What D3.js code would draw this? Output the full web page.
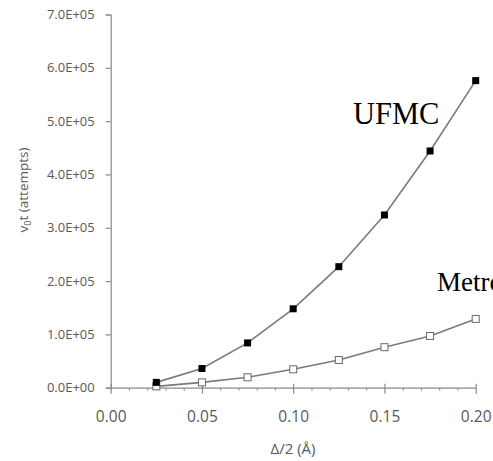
<!DOCTYPE html>
<html>
<head>
<meta charset="utf-8">
<script src="https://cdn.jsdelivr.net/npm/d3@7"></script>
<style>
  html, body { margin: 0; padding: 0; background: #fff; }
  svg { display: block; }
</style>
</head>
<body>
<svg id="chart" width="493" height="461"></svg>
<script>
// Half-width of the displacement window, Å
const halfDelta = [0.025, 0.05, 0.075, 0.1, 0.125, 0.15, 0.175, 0.2];
// Attempts needed, UFMC
const ufmcAttempts = [1.0e4, 3.6e4, 8.4e4, 1.48e5, 2.27e5, 3.24e5, 4.44e5, 5.76e5];
// Attempts needed, Metropolis
const metroAttempts = [2.5e3, 1.0e4, 1.95e4, 3.45e4, 5.2e4, 7.6e4, 9.7e4, 1.29e5];

const xTickValues = [0, 0.05, 0.1, 0.15, 0.2];
const xTickLabels = ["0.00", "0.05", "0.10", "0.15", "0.20"];
const xMinorValues = d3.range(0, 21).map(i => i / 100).filter(v => Math.round(v * 100) % 5 !== 0);
const yTickValues = [0, 1e5, 2e5, 3e5, 4e5, 5e5, 6e5, 7e5];
const yTickLabels = ["0.0E+00", "1.0E+05", "2.0E+05", "3.0E+05", "4.0E+05", "5.0E+05", "6.0E+05", "7.0E+05"];

const svg = d3.select("#chart");
const x = d3.scaleLinear().domain([0, 0.2]).range([110.7, 475.7]);
const y = d3.scaleLinear().domain([0, 7e5]).range([387.7, 14.5]);

const axisColor = "#8a8a8a";
const textColor = "#595959";
const font = "'Open Sans', sans-serif";

// Y axis
const yAxis = svg.append("g")
  .attr("transform", `translate(${x(0)},0)`)
  .call(d3.axisLeft(y).tickValues(yTickValues)
    .tickFormat((d, i) => yTickLabels[i]).tickSize(5).tickPadding(11));
yAxis.select(".domain").attr("stroke", axisColor).attr("stroke-width", 1.2);
yAxis.selectAll(".tick line").attr("stroke", axisColor).attr("stroke-width", 1.2);
yAxis.selectAll(".tick text").attr("fill", textColor)
  .style("font-family", font).style("font-size", "13px");

// X axis minor ticks
const xMinor = svg.append("g")
  .attr("transform", `translate(0,${y(0)})`)
  .call(d3.axisBottom(x).tickValues(xMinorValues).tickFormat("").tickSize(3));
xMinor.select(".domain").remove();
xMinor.selectAll(".tick line").attr("stroke", axisColor).attr("stroke-width", 1);

// X axis major ticks, crossing the axis line
const xAxis = svg.append("g")
  .attr("transform", `translate(0,${y(0)})`)
  .call(d3.axisBottom(x).tickValues(xTickValues)
    .tickFormat((d, i) => xTickLabels[i]).tickSizeInner(6).tickSizeOuter(0).tickPadding(17));
xAxis.select(".domain").attr("stroke", axisColor).attr("stroke-width", 1.2);
xAxis.selectAll(".tick line").attr("y1", -4).attr("stroke", axisColor).attr("stroke-width", 1.2);
xAxis.selectAll(".tick text").attr("fill", textColor)
  .style("font-family", font).style("font-size", "15.5px");

// Axis titles
svg.append("text")
  .attr("x", 293).attr("y", 454)
  .attr("text-anchor", "middle")
  .attr("fill", textColor)
  .style("font-family", font).style("font-size", "15px")
  .text("Δ/2 (Å)");

const yTitle = svg.append("text")
  .attr("transform", "translate(28,190) rotate(-90)")
  .attr("text-anchor", "middle")
  .attr("fill", textColor)
  .style("font-family", font).style("font-size", "13.5px");
yTitle.append("tspan").text("v");
yTitle.append("tspan").attr("dy", 3).style("font-size", "9px").text("0");
yTitle.append("tspan").attr("dy", -3).text("t (attempts)");

// Series
const line = d3.line().x(d => x(d[0])).y(d => y(d[1]));
const ufmc = halfDelta.map((d, i) => [d, ufmcAttempts[i]]);
const metro = halfDelta.map((d, i) => [d, metroAttempts[i]]);

[metro, ufmc].forEach(s => {
  svg.append("path").datum(s)
    .attr("d", line)
    .attr("fill", "none")
    .attr("stroke", "#7a7a7a")
    .attr("stroke-width", 1.6);
});

const m = 7;
svg.append("g").selectAll("rect").data(metro).join("rect")
  .attr("x", d => x(d[0]) - m / 2).attr("y", d => y(d[1]) - m / 2)
  .attr("width", m).attr("height", m)
  .attr("fill", "#fff").attr("stroke", "#6a6a6a").attr("stroke-width", 1);

svg.append("g").selectAll("rect").data(ufmc).join("rect")
  .attr("x", d => x(d[0]) - m / 2).attr("y", d => y(d[1]) - m / 2)
  .attr("width", m).attr("height", m)
  .attr("fill", "#000");

// Series labels
svg.append("text")
  .attr("x", 353).attr("y", 124.3)
  .attr("fill", "#000")
  .style("font-family", "'Liberation Serif', 'Times New Roman', serif")
  .style("font-size", "30.5px")
  .text("UFMC");

// The second label runs past the right edge of the frame and is cut there
svg.append("text")
  .attr("x", 437).attr("y", 290.5)
  .attr("fill", "#000")
  .style("font-family", "'Liberation Serif', 'Times New Roman', serif")
  .style("font-size", "27px")
  .text("Metropolis");
</script>
</body>
</html>
